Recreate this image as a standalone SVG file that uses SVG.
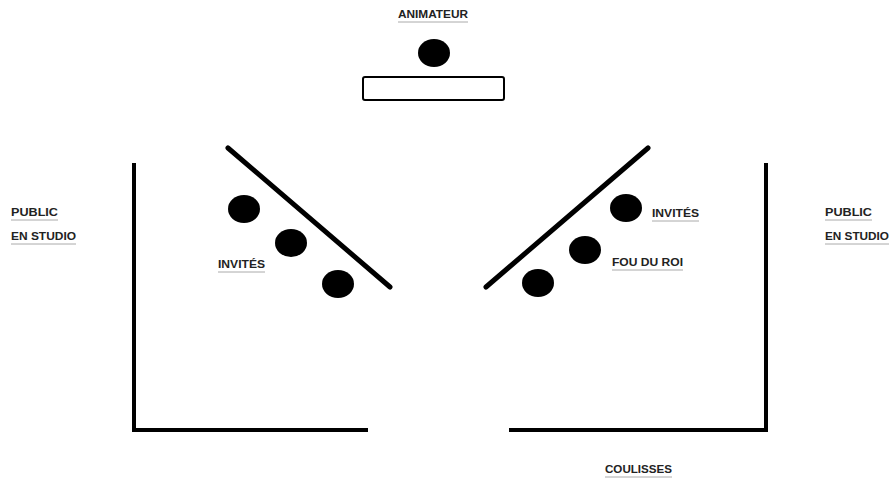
<svg xmlns="http://www.w3.org/2000/svg" width="894" height="481" viewBox="0 0 894 481">
<style>
.lbl{font-family:"Liberation Sans",Arial,sans-serif;font-weight:bold;font-size:11.5px;fill:#222}
.ul{stroke:#aaa;stroke-width:1}
.wall{stroke:#000;stroke-width:4;fill:none;stroke-linecap:square}
.diag{stroke:#000;stroke-width:5;stroke-linecap:round}
.p{fill:#000}
</style>
<rect width="894" height="481" fill="#fff"/>
<g id="walls">
<polyline class="wall" points="134,165 134,430 366,430"/>
<polyline class="wall" points="766,165 766,430 511,430"/>
</g>
<g id="animateur">
<text class="lbl" x="398" y="18" textLength="70" lengthAdjust="spacingAndGlyphs">ANIMATEUR</text>
<line class="ul" x1="398" y1="22" x2="468" y2="22"/>
<ellipse class="p" cx="434" cy="53" rx="16" ry="14"/>
<rect x="363" y="77" width="141" height="23" rx="2" fill="#fff" stroke="#000" stroke-width="2"/>
</g>
<g id="invites-gauche">
<line class="diag" x1="228" y1="148" x2="390" y2="287"/>
<ellipse class="p" cx="244" cy="209" rx="16" ry="14"/>
<ellipse class="p" cx="291" cy="243" rx="16" ry="14"/>
<ellipse class="p" cx="338" cy="284" rx="16" ry="14"/>
<text class="lbl" x="218" y="268" textLength="47" lengthAdjust="spacingAndGlyphs">INVITÉS</text>
<line class="ul" x1="218" y1="272" x2="265" y2="272"/>
</g>
<g id="invites-droite">
<line class="diag" x1="486" y1="287" x2="648" y2="148"/>
<ellipse class="p" cx="626" cy="208" rx="16" ry="14"/>
<ellipse class="p" cx="585" cy="250" rx="16" ry="14"/>
<ellipse class="p" cx="538" cy="283" rx="16" ry="14"/>
<text class="lbl" x="652" y="217" textLength="47" lengthAdjust="spacingAndGlyphs">INVITÉS</text>
<line class="ul" x1="652" y1="221" x2="699" y2="221"/>
<text class="lbl" x="612" y="266" textLength="71" lengthAdjust="spacingAndGlyphs">FOU DU ROI</text>
<line class="ul" x1="612" y1="270" x2="683" y2="270"/>
</g>
<g id="public-gauche">
<text class="lbl" x="11" y="216" textLength="47" lengthAdjust="spacingAndGlyphs">PUBLIC</text>
<line class="ul" x1="11" y1="220" x2="58" y2="220"/>
<text class="lbl" x="11" y="240" textLength="65" lengthAdjust="spacingAndGlyphs">EN STUDIO</text>
<line class="ul" x1="11" y1="244" x2="76" y2="244"/>
</g>
<g id="public-droite">
<text class="lbl" x="825" y="216" textLength="47" lengthAdjust="spacingAndGlyphs">PUBLIC</text>
<line class="ul" x1="825" y1="220" x2="872" y2="220"/>
<text class="lbl" x="825" y="240" textLength="64" lengthAdjust="spacingAndGlyphs">EN STUDIO</text>
<line class="ul" x1="825" y1="244" x2="889" y2="244"/>
</g>
<g id="coulisses">
<text class="lbl" x="605" y="473" textLength="67" lengthAdjust="spacingAndGlyphs">COULISSES</text>
<line class="ul" x1="605" y1="477" x2="672" y2="477"/>
</g>
</svg>
